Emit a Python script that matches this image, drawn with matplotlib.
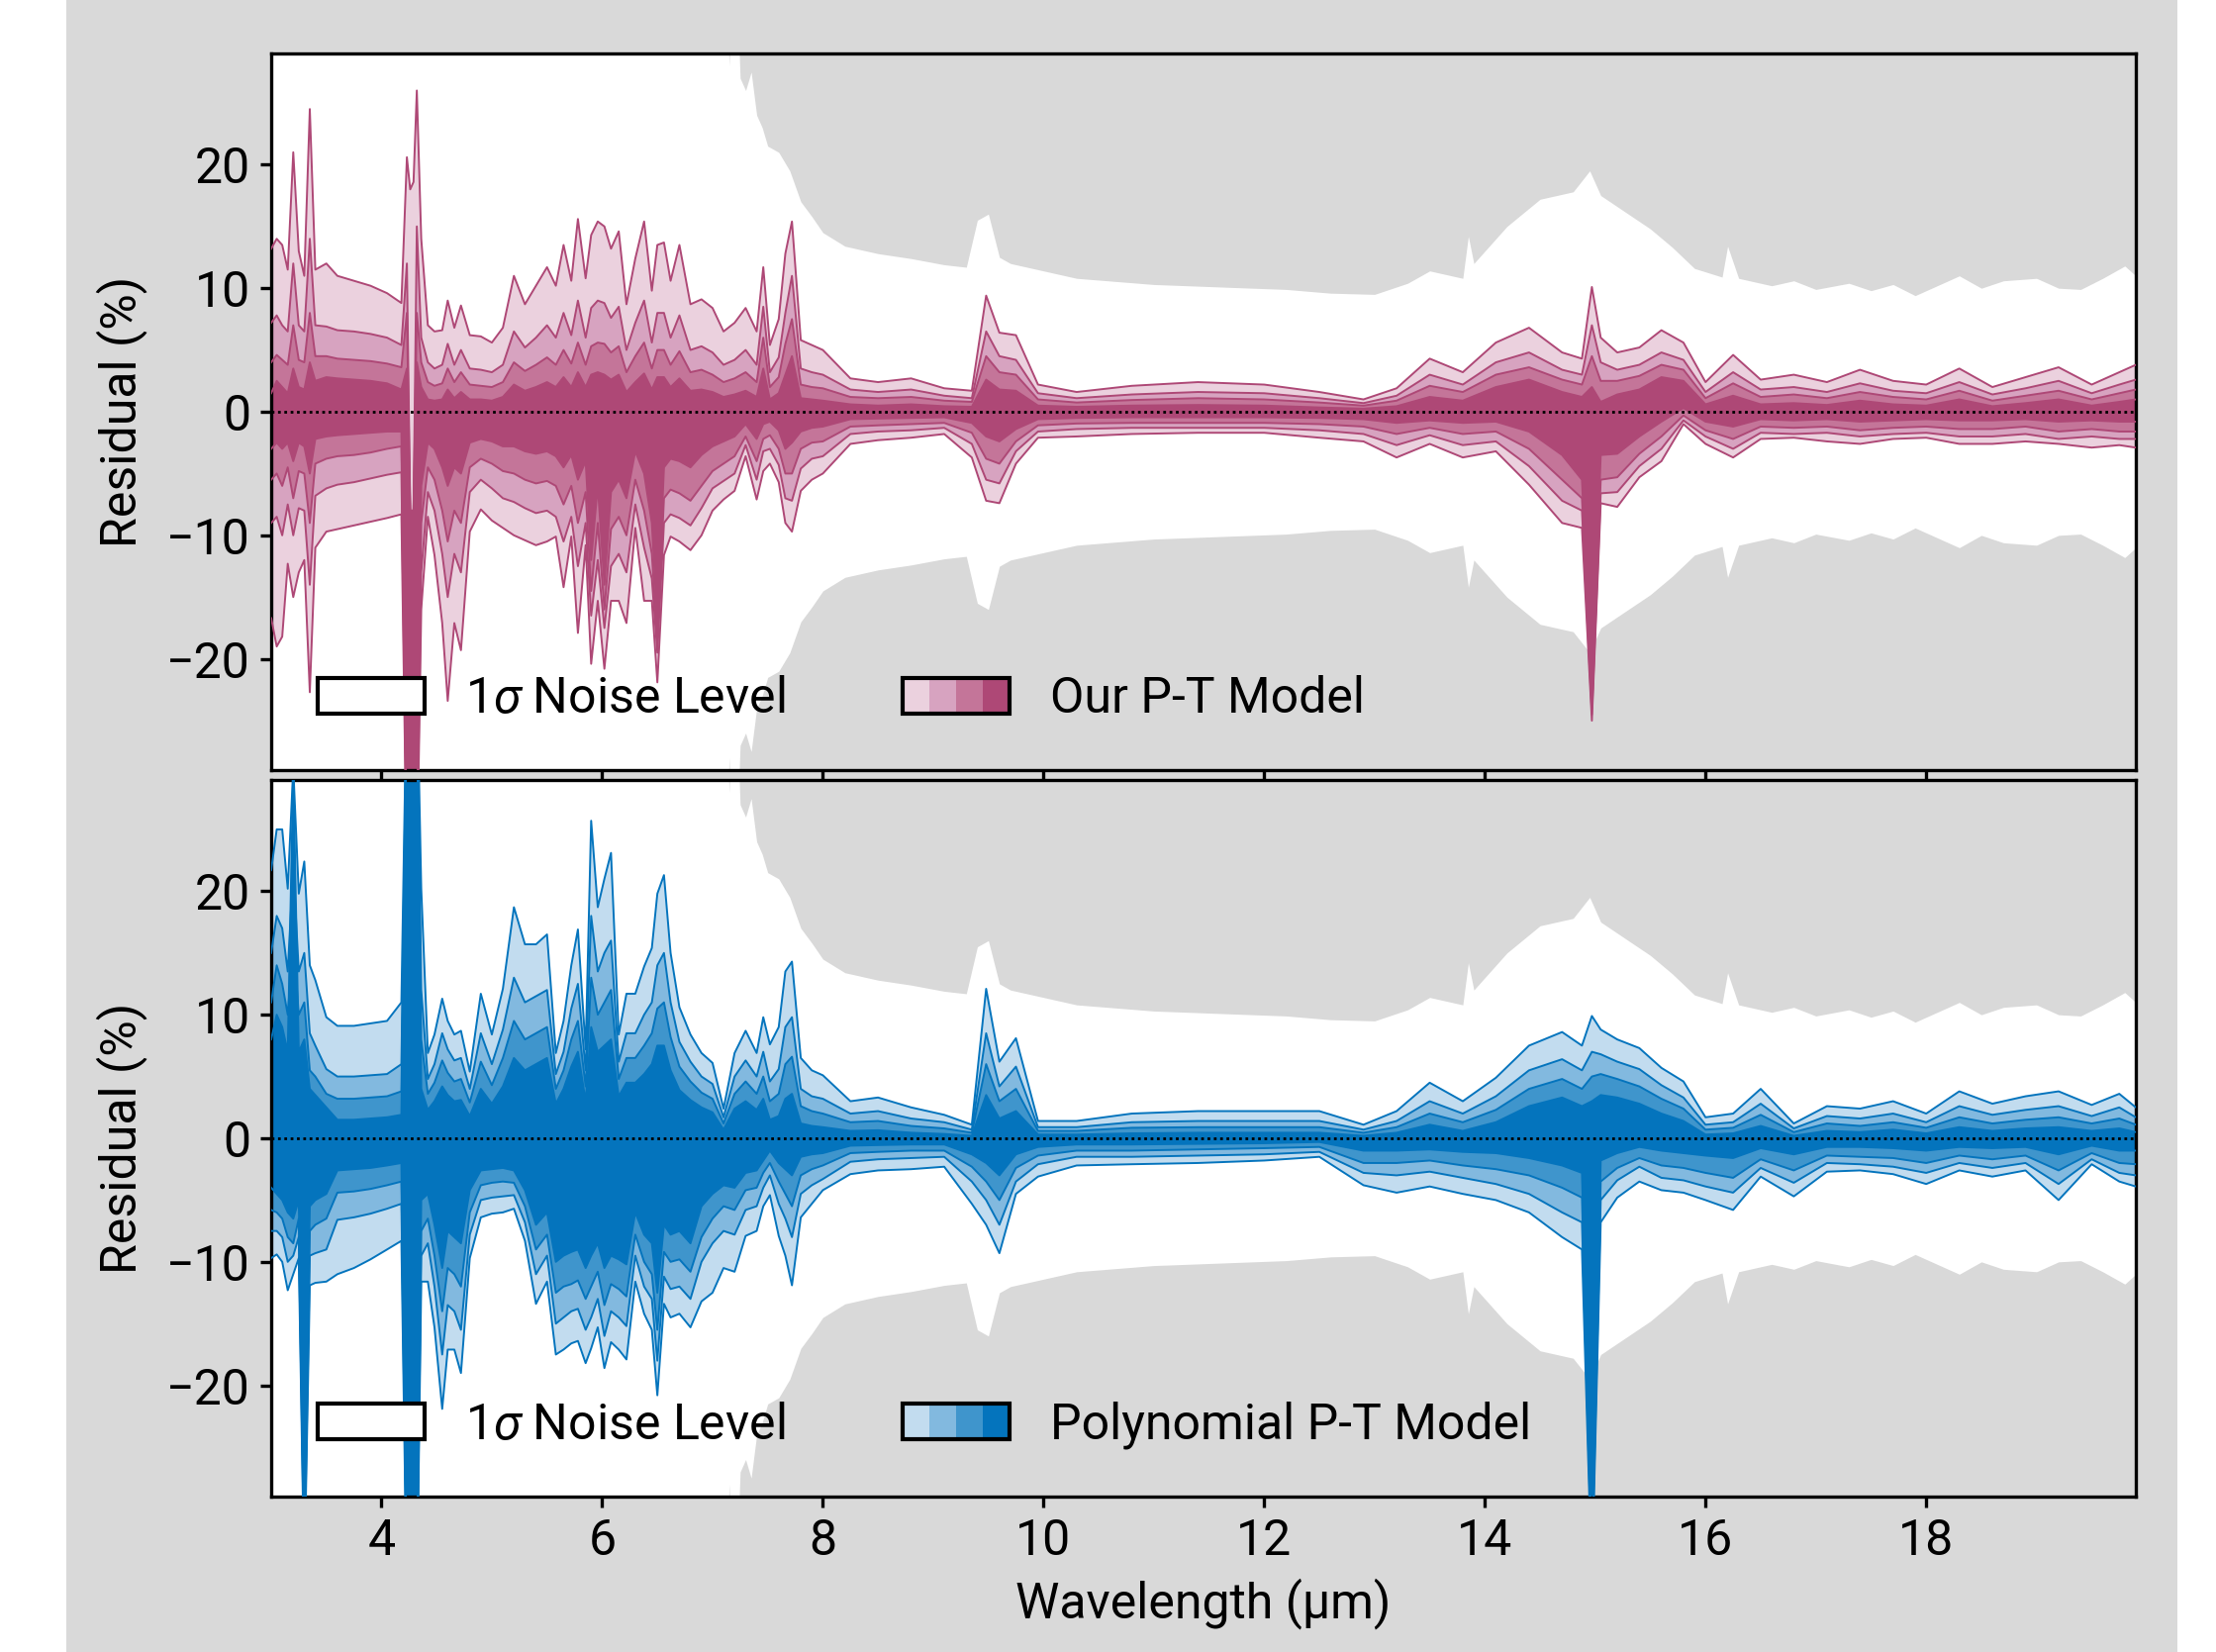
import numpy as np
import matplotlib
matplotlib.use("Agg")
import matplotlib.pyplot as plt
from matplotlib.patches import Rectangle, Patch
from matplotlib.legend_handler import HandlerBase

plt.rcParams['font.family'] = ['Roboto', 'DejaVu Sans']
plt.rcParams['mathtext.fontset'] = 'custom'
plt.rcParams['mathtext.rm'] = 'Roboto'
plt.rcParams['mathtext.it'] = 'Roboto:italic'

# =============================================================================
# Data
# =============================================================================
# shared wavelength grid (um)
wl = [3.00, 3.05, 3.10, 3.15, 3.20, 3.25, 3.30, 3.35, 3.40, 3.50,
      3.60, 3.75, 3.90, 4.05, 4.18, 4.23, 4.26, 4.29, 4.32, 4.36,
      4.42, 4.48, 4.55, 4.60, 4.66, 4.72, 4.80, 4.90, 5.00, 5.10,
      5.20, 5.30, 5.40, 5.50, 5.58, 5.65, 5.72, 5.78, 5.85, 5.90,
      5.96, 6.02, 6.08, 6.15, 6.22, 6.30, 6.38, 6.45, 6.50, 6.56,
      6.62, 6.70, 6.80, 6.90, 7.00, 7.10, 7.20, 7.30, 7.40, 7.46,
      7.52, 7.60, 7.66, 7.72, 7.80, 7.90, 8.00, 8.25, 8.50, 8.80,
      9.10, 9.35, 9.48, 9.60, 9.75, 9.95, 10.3, 10.8, 11.4, 12.0,
      12.5, 12.9, 13.2, 13.5, 13.8, 14.1, 14.4, 14.7, 14.88, 14.97,
      15.05, 15.2, 15.4, 15.6, 15.8, 16.0, 16.25, 16.5, 16.8, 17.1,
      17.4, 17.7, 18.0, 18.3, 18.6, 18.9, 19.2, 19.5, 19.75, 19.9]

# 1-sigma noise level (%), symmetric about zero
noise_wl = [3.0, 7.05, 7.15, 7.2, 7.25, 7.3, 7.35, 7.4, 7.45, 7.5,
            7.6, 7.7, 7.8, 7.9, 8.0, 8.2, 8.5, 8.8, 9.1, 9.3,
            9.4, 9.5, 9.6, 9.7, 9.9, 10.3, 11.0, 11.6, 12.2, 12.6,
            13.0, 13.3, 13.5, 13.8, 13.85, 13.9, 14.2, 14.5, 14.8, 14.95,
            15.05, 15.3, 15.5, 15.7, 15.9, 16.15, 16.2, 16.3, 16.6, 16.8,
            17.0, 17.3, 17.5, 17.7, 17.9, 18.1, 18.3, 18.5, 18.7, 19.0,
            19.2, 19.4, 19.6, 19.8, 19.9]
noise_sigma = [60, 60, 28, 40, 27, 26, 27.5, 24, 23, 21.5,
               21, 19.5, 17.0, 15.8, 14.5, 13.4, 12.8, 12.4, 11.9, 11.7,
               15.5, 16.0, 12.5, 12.0, 11.6, 10.8, 10.3, 10.1, 9.9, 9.6,
               9.5, 10.4, 11.4, 10.8, 14.2, 12.0, 15.0, 17.2, 17.8, 19.5,
               17.5, 16.0, 14.8, 13.3, 11.6, 10.9, 13.4, 10.8, 10.2, 10.6,
               9.9, 10.4, 9.8, 10.3, 9.4, 10.2, 11.0, 10.0, 10.6, 10.8,
               10.0, 9.9, 10.8, 11.8, 11.0]

# --- Our P-T model: residual bands (outer -> inner), percent ---
our_hi4 = [13.2, 14.0, 13.5, 11.5, 21.0, 13.0, 11.0, 24.5, 11.5, 12.0,
           11.0, 10.6, 10.2, 9.6, 8.8, 20.6, 18.0, 18.6, 26.0, 14.0,
           7.0, 6.5, 6.6, 9.0, 6.8, 8.6, 6.2, 6.1, 5.6, 6.8,
           11.0, 8.7, 10.2, 11.7, 10.2, 13.5, 10.6, 15.6, 10.8, 14.3,
           15.4, 15.0, 13.2, 14.6, 8.7, 12.4, 15.4, 9.8, 13.5, 13.7,
           10.6, 13.5, 8.7, 9.1, 8.4, 6.5, 7.2, 8.4, 6.5, 11.7,
           5.4, 7.5, 12.8, 15.4, 5.8, 5.4, 5.0, 2.7, 2.4, 2.7,
           1.9, 1.7, 9.4, 6.4, 6.2, 2.2, 1.6, 2.1, 2.4, 2.2,
           1.6, 1.0, 1.9, 4.3, 3.2, 5.6, 6.8, 4.8, 4.3, 10.1,
           6.0, 4.8, 5.2, 6.6, 5.6, 2.4, 4.6, 2.6, 3.0, 2.4,
           3.4, 2.5, 2.2, 3.5, 2.0, 2.8, 3.6, 2.2, 3.2, 3.8]
our_hi3 = [7.2, 7.8, 7.0, 6.5, 12.0, 7.0, 6.5, 14.0, 7.0, 6.9,
           6.6, 6.5, 6.3, 6.0, 5.4, 12.0, -8, -8, 15.0, 6.0,
           4.0, 3.5, 3.8, 5.5, 3.8, 5.0, 3.5, 3.4, 3.2, 3.8,
           6.5, 5.2, 6.0, 7.0, 6.0, 8.0, 6.2, 9.0, 6.0, 8.4,
           9.0, 8.8, 7.6, 8.5, 5.0, 7.2, 9.0, 5.6, 8.0, 8.0,
           6.0, 7.8, 5.0, 5.3, 4.8, 3.8, 4.2, 5.0, 3.8, 8.5,
           3.2, 4.4, 8.0, 11.0, 3.5, 3.2, 3.0, 1.8, 1.6, 1.8,
           1.3, 1.1, 6.5, 4.5, 4.2, 1.5, 1.1, 1.4, 1.6, 1.5,
           1.1, 0.7, 1.3, 3.0, 2.2, 4.0, 4.8, 3.4, 3.0, 7.0,
           4.0, 3.4, 3.8, 4.8, 4.2, 1.6, 3.2, 1.8, 2.0, 1.6,
           2.3, 1.7, 1.5, 2.4, 1.4, 1.9, 2.5, 1.5, 2.2, 2.6]
our_hi2 = [4.0, 4.6, 4.2, 3.8, 7.0, 4.2, 4.0, 8.0, 4.5, 4.5,
           4.3, 4.2, 4.1, 3.9, 3.6, 8.0, -8, -8, 8.0, 4.0,
           2.4, 2.1, 2.3, 3.5, 2.4, 3.2, 2.2, 2.1, 2.0, 2.4,
           4.0, 3.3, 3.8, 4.4, 3.8, 5.0, 3.9, 5.6, 3.8, 5.3,
           5.6, 5.5, 4.8, 5.3, 3.2, 4.5, 5.6, 3.5, 5.0, 5.0,
           3.8, 4.9, 3.2, 3.4, 3.0, 2.4, 2.7, 3.2, 2.4, 6.0,
           2.0, 2.8, 5.5, 7.5, 2.2, 2.0, 1.9, 1.2, 1.1, 1.2,
           0.9, 0.8, 4.5, 3.2, 3.0, 1.0, 0.75, 0.95, 1.1, 1.0,
           0.75, 0.5, 0.9, 2.1, 1.6, 3.0, 3.6, 2.6, 2.2, 4.5,
           2.5, 2.5, 2.9, 3.8, 3.4, 1.1, 2.3, 1.2, 1.4, 1.1,
           1.6, 1.2, 1.0, 1.7, 0.9, 1.3, 1.7, 1.0, 1.5, 1.8]
our_hi1 = [1.5, 2.5, 2.0, 1.5, 3.5, 2.0, 1.8, 4.0, 2.5, 2.8,
           2.7, 2.6, 2.5, 2.3, 1.8, 3.5, -8, -8, 4.0, 2.0,
           1.0, 0.9, 1.0, 1.8, 1.1, 1.6, 1.0, 1.0, 0.9, 1.2,
           2.2, 1.7, 2.0, 2.4, 2.0, 2.8, 2.0, 3.2, 2.0, 3.0,
           3.2, 3.0, 2.6, 3.0, 1.6, 2.4, 3.1, 1.8, 2.8, 2.8,
           2.0, 2.7, 1.7, 1.8, 1.6, 1.2, 1.4, 1.7, 1.2, 3.5,
           1.0, 1.5, 3.0, 4.5, 1.1, 1.0, 0.9, 0.6, 0.5, 0.6,
           0.45, 0.4, 2.6, 1.8, 1.7, 0.5, 0.4, 0.5, 0.55, 0.5,
           0.35, 0.25, 0.45, 1.2, 0.9, 2.0, 2.6, 1.6, 1.2, 2.0,
           0.8, 1.4, 1.8, 2.8, 2.5, 0.6, 1.3, 0.6, 0.7, 0.55,
           0.9, 0.6, 0.5, 1.0, 0.45, 0.7, 1.0, 0.5, 0.8, 1.0]
our_lo1 = [-3.0, -2.5, -3.0, -2.5, -4.0, -2.5, -2.8, -5.0, -2.2, -2.0,
           -1.9, -1.8, -1.7, -1.6, -1.6, -35, -35, -35, -35, -6.0,
           -2.5, -3.0, -4.5, -6.0, -4.5, -5.0, -2.5, -2.2, -2.4, -2.8,
           -2.8, -3.2, -3.4, -3.2, -3.6, -4.5, -3.5, -5.5, -4.0, -12.0,
           -6.0, -14.0, -6.5, -5.5, -7.0, -3.2, -5.0, -9.0, -17.0, -4.5,
           -3.8, -4.0, -4.5, -3.5, -2.8, -2.4, -2.0, -1.0, -2.2, -1.0,
           -0.8, -1.5, -3.0, -2.5, -1.6, -1.3, -1.2, -0.6, -0.55, -0.5,
           -0.45, -0.9, -2.0, -2.4, -1.4, -0.6, -0.5, -0.45, -0.45, -0.45,
           -0.5, -0.6, -0.9, -0.7, -0.9, -0.8, -1.6, -3.5, -5.5, -23,
           -3.5, -3.4, -2.0, -0.8, 0.3, -0.8, -1.2, -0.6, -0.7, -0.6,
           -0.8, -0.7, -0.6, -0.7, -0.7, -0.6, -0.8, -0.7, -0.8, -0.8]
our_lo2 = [-5.5, -5.0, -6.0, -4.5, -7.0, -4.8, -5.0, -9.0, -4.2, -3.8,
           -3.6, -3.5, -3.3, -3.0, -2.8, -36, -36, -36, -36, -9.0,
           -4.5, -5.5, -8.0, -10.5, -8.0, -9.0, -4.5, -3.8, -4.2, -4.8,
           -5.0, -5.5, -5.8, -5.6, -6.0, -7.5, -6.0, -9.0, -6.5, -14.5,
           -9.0, -16.0, -9.5, -8.5, -10.0, -5.5, -8.0, -11.5, -18.5, -7.0,
           -6.3, -6.6, -7.2, -6.0, -4.8, -4.2, -3.6, -2.0, -4.0, -2.2,
           -1.9, -3.0, -5.0, -5.0, -3.0, -2.5, -2.4, -1.2, -1.1, -1.0,
           -0.9, -1.7, -3.8, -4.2, -2.4, -1.1, -0.95, -0.9, -0.9, -0.9,
           -1.0, -1.2, -1.8, -1.3, -1.8, -1.6, -3.0, -5.5, -7.0, -24,
           -5.5, -5.3, -3.4, -2.0, -0.3, -1.5, -2.2, -1.2, -1.3, -1.2,
           -1.5, -1.3, -1.2, -1.4, -1.4, -1.2, -1.6, -1.4, -1.6, -1.6]
our_lo3 = [-9.0, -8.5, -10.0, -7.5, -10.0, -7.8, -8.0, -14.0, -6.8, -6.2,
           -5.9, -5.7, -5.4, -5.1, -4.9, -37, -37, -37, -37, -13.0,
           -6.5, -8.0, -11.5, -15.0, -11.5, -13.0, -6.5, -5.5, -6.2, -7.0,
           -7.3, -7.8, -8.2, -8.0, -8.5, -10.5, -8.5, -12.5, -9.0, -16.5,
           -12.0, -17.5, -12.5, -11.5, -13.0, -7.5, -11.0, -13.5, -19.5, -9.0,
           -8.3, -8.6, -9.2, -7.8, -6.2, -5.6, -5.0, -2.7, -5.5, -3.2,
           -3.0, -4.3, -7.0, -7.2, -4.6, -3.8, -3.6, -1.8, -1.6, -1.5,
           -1.3, -2.6, -5.5, -5.8, -3.2, -1.6, -1.4, -1.3, -1.3, -1.3,
           -1.5, -1.8, -2.7, -1.9, -2.7, -2.4, -4.4, -7.2, -8.0, -24.5,
           -6.6, -6.5, -4.4, -3.0, -0.7, -2.0, -3.0, -1.7, -1.8, -1.7,
           -2.0, -1.8, -1.7, -2.0, -2.0, -1.8, -2.2, -2.0, -2.2, -2.2]
our_lo4 = [-16.7, -19.0, -18.2, -12.3, -15.0, -13.0, -12.0, -22.7, -11.0, -9.7,
           -9.5, -9.2, -8.9, -8.6, -8.3, -38, -38, -38, -38, -16.0,
           -8.5, -11.6, -17.1, -23.4, -17.1, -19.3, -9.7, -7.9, -8.8, -9.4,
           -10.0, -10.4, -10.8, -10.5, -10.1, -14.2, -10.1, -17.9, -10.8, -20.4,
           -15.3, -20.8, -15.3, -15.3, -17.1, -9.4, -15.3, -15.3, -21.9, -11.6,
           -10.1, -10.5, -11.2, -10.0, -8.0, -7.1, -6.4, -3.6, -7.1, -4.8,
           -4.2, -5.7, -9.0, -9.7, -6.4, -5.5, -5.0, -2.6, -2.3, -2.1,
           -1.8, -3.7, -7.2, -7.4, -4.2, -2.1, -2.0, -1.8, -1.7, -1.7,
           -2.1, -2.4, -3.7, -2.6, -3.7, -3.2, -5.9, -9.0, -9.4, -25,
           -7.4, -7.7, -5.3, -4.0, -1.0, -2.6, -3.7, -2.2, -2.1, -2.4,
           -2.6, -2.2, -2.1, -2.6, -2.6, -2.4, -2.6, -2.9, -2.7, -2.9]

# --- Polynomial P-T model: residual bands (outer -> inner), percent ---
poly_hi4 = [21.7, 25.0, 25.0, 20.2, 30.0, 19.8, 22.4, 14.0, 12.8, 9.8,
            9.1, 9.1, 9.3, 9.5, 11.0, 38, 38, 38, 38, 20.2,
            6.9, 8.4, 11.3, 9.5, 8.4, 8.7, 5.4, 11.7, 8.4, 12.1,
            18.7, 15.7, 15.7, 16.5, 6.9, 9.5, 14.0, 16.9, 7.2, 25.7,
            18.7, 21.0, 23.1, 8.4, 11.7, 11.7, 13.9, 15.4, 19.8, 21.3,
            15.0, 10.6, 8.4, 6.9, 6.1, 2.4, 6.9, 8.7, 6.9, 9.8,
            7.6, 9.0, 13.5, 14.3, 6.5, 5.5, 5.1, 3.0, 3.3, 2.5,
            1.9, 1.1, 12.1, 6.2, 8.1, 1.4, 1.4, 2.0, 2.2, 2.2,
            2.2, 1.1, 2.2, 4.5, 3.0, 4.9, 7.5, 8.6, 7.5, 9.9,
            8.8, 8.0, 7.3, 5.7, 4.6, 1.7, 2.0, 4.0, 1.2, 2.6,
            2.4, 3.0, 2.0, 3.8, 2.8, 3.4, 3.8, 2.7, 3.6, 2.5]
poly_hi3 = [15.0, 18.0, 17.0, 13.5, 22.0, 13.5, 15.0, 8.5, 7.5, 5.6,
            5.0, 5.0, 5.1, 5.2, 6.0, 37, 37, 37, 37, 12.0,
            4.8, 6.0, 8.5, 7.2, 6.3, 6.5, 4.0, 8.5, 6.0, 8.8,
            13.0, 11.0, 11.5, 12.0, 5.2, 7.0, 10.5, 12.5, 5.5, 18.0,
            13.5, 15.0, 16.0, 6.2, 8.5, 8.5, 10.0, 11.0, 14.0, 15.0,
            11.0, 7.8, 6.2, 5.0, 4.4, 1.7, 5.0, 6.3, 5.0, 7.0,
            4.6, 5.6, 9.0, 9.8, 4.0, 3.4, 3.2, 2.0, 2.2, 1.6,
            1.3, 0.7, 8.5, 4.2, 5.8, 0.9, 0.9, 1.3, 1.4, 1.4,
            1.4, 0.7, 1.4, 3.0, 2.0, 3.4, 5.5, 6.4, 5.5, 7.0,
            6.8, 6.2, 5.6, 4.3, 3.3, 1.1, 1.3, 2.8, 0.8, 1.8,
            1.6, 2.0, 1.3, 2.6, 1.9, 2.3, 2.6, 1.8, 2.5, 1.7]
poly_hi2 = [11.0, 14.0, 12.5, 10.0, 16.0, 10.0, 11.0, 5.5, 5.0, 3.6,
            3.2, 3.2, 3.3, 3.4, 3.8, 36, 36, 36, 36, 8.0,
            3.6, 4.5, 6.3, 5.3, 4.6, 4.8, 2.9, 6.2, 4.3, 6.5,
            9.5, 8.0, 8.5, 9.0, 4.0, 5.5, 8.0, 9.5, 4.2, 13.0,
            10.0, 11.0, 12.0, 4.8, 6.5, 6.5, 7.5, 8.5, 10.5, 11.0,
            8.2, 5.8, 4.6, 3.7, 3.2, 1.2, 3.6, 4.6, 3.6, 5.0,
            3.0, 3.6, 6.0, 6.6, 2.6, 2.2, 2.0, 1.3, 1.4, 1.0,
            0.8, 0.45, 6.0, 3.0, 4.0, 0.6, 0.6, 0.85, 0.9, 0.9,
            0.9, 0.45, 0.9, 2.0, 1.3, 2.3, 4.0, 4.8, 4.0, 5.0,
            5.2, 4.8, 4.2, 3.2, 2.4, 0.7, 0.85, 1.9, 0.5, 1.2,
            1.0, 1.3, 0.85, 1.7, 1.2, 1.5, 1.7, 1.2, 1.6, 1.1]
poly_hi1 = [8.0, 10.0, 9.0, 7.0, 30.0, 7.0, 8.0, 4.0, 3.5, 2.5,
            1.5, 1.5, 1.6, 1.7, 1.9, 35, 35, 35, 35, 4.0,
            2.3, 3.0, 4.2, 3.5, 3.0, 3.1, 1.8, 4.0, 2.8, 4.2,
            6.5, 5.5, 6.0, 6.5, 2.8, 4.0, 5.8, 7.0, 3.0, 9.0,
            7.0, 7.5, 8.0, 3.4, 4.5, 4.5, 5.2, 6.0, 7.5, 7.5,
            5.5, 3.9, 3.1, 2.5, 2.1, 0.7, 2.4, 3.0, 2.3, 3.2,
            1.5, 1.8, 3.2, 3.6, 1.2, 1.0, 0.9, 0.6, 0.65, 0.45,
            0.35, 0.2, 3.5, 1.6, 2.2, 0.3, 0.3, 0.4, 0.45, 0.45,
            0.45, 0.2, 0.45, 1.1, 0.6, 1.3, 2.6, 3.3, 2.6, 3.0,
            3.5, 3.3, 2.8, 2.0, 1.4, 0.3, 0.4, 1.0, 0.2, 0.6,
            0.5, 0.7, 0.4, 0.9, 0.6, 0.8, 0.9, 0.6, 0.8, 0.5]
poly_lo1 = [-4.0, -4.5, -5.0, -6.0, -6.5, -5.0, -33, -5.5, -5.0, -4.5,
            -2.6, -2.5, -2.4, -2.2, -2.0, -35, -35, -35, -35, -5.0,
            -4.5, -7.0, -10.5, -7.5, -8.0, -8.5, -4.2, -2.6, -2.5, -2.4,
            -2.6, -4.2, -7.0, -6.0, -10.0, -9.5, -9.2, -9.0, -10.5, -9.5,
            -8.5, -10.5, -9.5, -9.8, -10.2, -6.0, -7.8, -8.5, -12.5, -7.0,
            -7.8, -7.5, -8.5, -5.5, -4.5, -3.8, -4.0, -2.8, -2.6, -1.8,
            -1.0, -2.0, -2.5, -3.0, -1.5, -1.3, -1.2, -0.6, -0.55, -0.5,
            -0.5, -1.3, -2.0, -3.0, -1.3, -0.7, -0.5, -0.5, -0.45, -0.4,
            -0.3, -1.0, -1.0, -0.9, -1.1, -1.2, -1.6, -2.2, -2.8, -33,
            -1.8, -1.2, -0.7, -1.0, -1.2, -1.4, -1.6, -0.8, -1.3, -0.7,
            -0.7, -0.8, -1.0, -0.7, -0.8, -0.7, -1.3, -0.6, -1.0, -1.0]
poly_lo2 = [-5.8, -6.0, -6.5, -8.0, -8.5, -6.5, -34, -7.5, -7.0, -6.5,
            -4.4, -4.3, -4.1, -3.8, -3.5, -36, -36, -36, -36, -7.5,
            -6.5, -9.5, -14.0, -10.5, -11.0, -12.0, -6.0, -3.8, -3.6, -3.5,
            -3.6, -5.5, -9.0, -7.8, -12.5, -12.0, -11.8, -11.5, -13.0, -12.0,
            -10.8, -13.5, -11.8, -12.2, -12.8, -7.8, -10.0, -11.0, -15.5, -9.2,
            -10.0, -9.8, -10.8, -8.0, -6.5, -5.5, -5.8, -4.2, -4.0, -2.8,
            -2.0, -3.5, -4.5, -5.5, -3.0, -2.5, -2.2, -1.2, -1.1, -1.0,
            -1.0, -2.3, -3.5, -5.0, -2.4, -1.4, -1.0, -1.0, -0.9, -0.8,
            -0.7, -2.0, -2.0, -1.8, -2.2, -2.5, -3.0, -4.0, -4.8, -34,
            -3.5, -2.4, -1.6, -2.2, -2.4, -2.8, -3.2, -1.7, -2.6, -1.4,
            -1.5, -1.6, -2.0, -1.4, -1.7, -1.4, -2.6, -1.2, -2.0, -2.1]
poly_lo3 = [-7.5, -7.5, -8.0, -10.0, -9.5, -8.0, -35, -9.5, -9.3, -9.0,
            -6.6, -6.4, -6.1, -5.7, -5.3, -37, -37, -37, -37, -9.5,
            -8.5, -12.0, -17.5, -13.5, -14.0, -15.5, -7.8, -5.0, -4.8, -4.7,
            -4.6, -6.8, -11.0, -9.5, -15.0, -14.5, -14.0, -13.8, -15.5, -14.5,
            -13.0, -16.0, -14.0, -14.5, -15.2, -9.5, -12.0, -13.0, -18.0, -11.2,
            -12.2, -12.0, -13.0, -10.0, -8.5, -7.5, -7.8, -5.8, -5.5, -4.0,
            -3.0, -5.3, -6.5, -8.0, -4.5, -3.8, -3.3, -1.9, -1.7, -1.6,
            -1.5, -3.5, -5.0, -7.0, -3.5, -2.1, -1.5, -1.5, -1.4, -1.3,
            -1.1, -2.8, -3.0, -2.7, -3.2, -3.7, -4.5, -6.0, -6.8, -35,
            -5.0, -3.4, -2.3, -3.2, -3.4, -3.9, -4.4, -2.4, -3.6, -2.0,
            -2.1, -2.3, -2.8, -2.0, -2.4, -2.0, -3.7, -1.7, -2.8, -3.0]
poly_lo4 = [-9.7, -9.4, -10.0, -12.3, -11.0, -9.7, -36, -11.9, -11.7, -11.6,
            -11.0, -10.5, -9.8, -9.0, -8.3, -38, -38, -38, -38, -11.6,
            -11.6, -15.3, -21.9, -17.1, -17.1, -19.0, -9.7, -6.4, -6.1, -6.0,
            -5.7, -8.3, -13.4, -11.6, -17.5, -17.1, -16.6, -16.4, -18.2, -17.0,
            -15.3, -18.6, -16.5, -17.1, -17.9, -11.6, -14.2, -15.5, -20.8, -13.4,
            -14.5, -14.2, -15.3, -13.2, -12.5, -10.5, -10.8, -7.9, -7.5, -5.5,
            -4.6, -7.9, -9.5, -11.9, -6.4, -5.3, -4.2, -2.9, -2.6, -2.5,
            -2.3, -5.3, -7.0, -9.3, -4.5, -3.1, -2.2, -2.1, -2.0, -1.8,
            -1.5, -3.8, -4.4, -3.9, -4.5, -5.0, -6.0, -8.0, -9.0, -36,
            -6.8, -4.8, -3.5, -4.2, -4.4, -5.0, -5.8, -3.1, -4.7, -2.7,
            -2.6, -2.9, -3.7, -2.6, -3.1, -2.6, -5.0, -2.1, -3.5, -3.9]

pink = ['#ebd1de', '#d7a3c0', '#c47599', '#ae4876']
blue = ['#c2dcef', '#82b9df', '#3f95cc', '#0474bd']
panels = [
    ('Our P-T Model', pink,
     [(our_lo4, our_hi4), (our_lo3, our_hi3), (our_lo2, our_hi2), (our_lo1, our_hi1)]),
    ('Polynomial P-T Model', blue,
     [(poly_lo4, poly_hi4), (poly_lo3, poly_hi3), (poly_lo2, poly_hi2), (poly_lo1, poly_hi1)]),
]

BG = '#d9d9d9'


class BandHandler(HandlerBase):
    """Legend handle: four colour blocks side by side with a black frame."""
    def __init__(self, colors):
        super().__init__()
        self.colors = colors

    def create_artists(self, legend, orig_handle, xdescent, ydescent,
                       width, height, fontsize, trans):
        n = len(self.colors)
        arts = [Rectangle((-xdescent + i * width / n, -ydescent), width / n, height,
                          facecolor=c, edgecolor='none', transform=trans)
                for i, c in enumerate(self.colors)]
        arts.append(Rectangle((-xdescent, -ydescent), width, height, facecolor='none',
                              edgecolor='black', lw=1.5, transform=trans))
        return arts


# =============================================================================
# Figure
# =============================================================================
W, H = 2239, 1669
fig = plt.figure(figsize=(W / 200, H / 200), dpi=200)
fig.patch.set_facecolor('white')
fig.add_artist(Rectangle((67 / W, 0), (2200 - 67) / W, 1, transform=fig.transFigure,
                         facecolor=BG, edgecolor='none', zorder=-10))

ax_top = fig.add_axes([274 / W, 1 - 778 / H, 1884 / W, 724 / H])
ax_bot = fig.add_axes([274 / W, 1 - 1512 / H, 1884 / W, 724 / H])

sig = np.array(noise_sigma)
for ax, (label, cols, bands) in zip([ax_top, ax_bot], panels):
    ax.set_facecolor(BG)
    ax.fill_between(noise_wl, -sig, sig, color='white', lw=0, zorder=1)
    for (lo, hi), c in zip(bands, cols):
        ax.fill_between(wl, lo, hi, facecolor=c, edgecolor='none', zorder=2)
        ax.plot(wl, hi, color=cols[-1], lw=0.7, zorder=3)
        ax.plot(wl, lo, color=cols[-1], lw=0.7, zorder=3)
    ax.axhline(0, color='black', lw=1.0, ls=(0, (1, 1.3)), zorder=5)

    ax.set_xlim(3.0, 19.9)
    ax.set_ylim(-29, 29)
    ax.set_xticks(range(4, 19, 2))
    ax.set_yticks([-20, -10, 0, 10, 20])
    ax.tick_params(direction='out', length=4, width=1.2, labelsize=18)
    for s in ax.spines.values():
        s.set_linewidth(1.2)
    ax.set_ylabel('Residual (%)', fontsize=18, labelpad=7)

    dummy = Patch()
    ax.legend([Patch(facecolor='white', edgecolor='black', lw=1.5), dummy],
              [r'1$\sigma$ Noise Level', label],
              handler_map={dummy: BandHandler(cols)},
              loc='lower left', bbox_to_anchor=(0.025, 0.066), ncol=2,
              frameon=False, fontsize=18, borderpad=0, borderaxespad=0,
              handlelength=2.16, handleheight=0.72, handletextpad=0.82,
              columnspacing=2.36)

ax_top.tick_params(labelbottom=False)
ax_bot.set_xlabel('Wavelength (μm)', fontsize=18, labelpad=5)

fig.savefig('out.png', dpi=200)
